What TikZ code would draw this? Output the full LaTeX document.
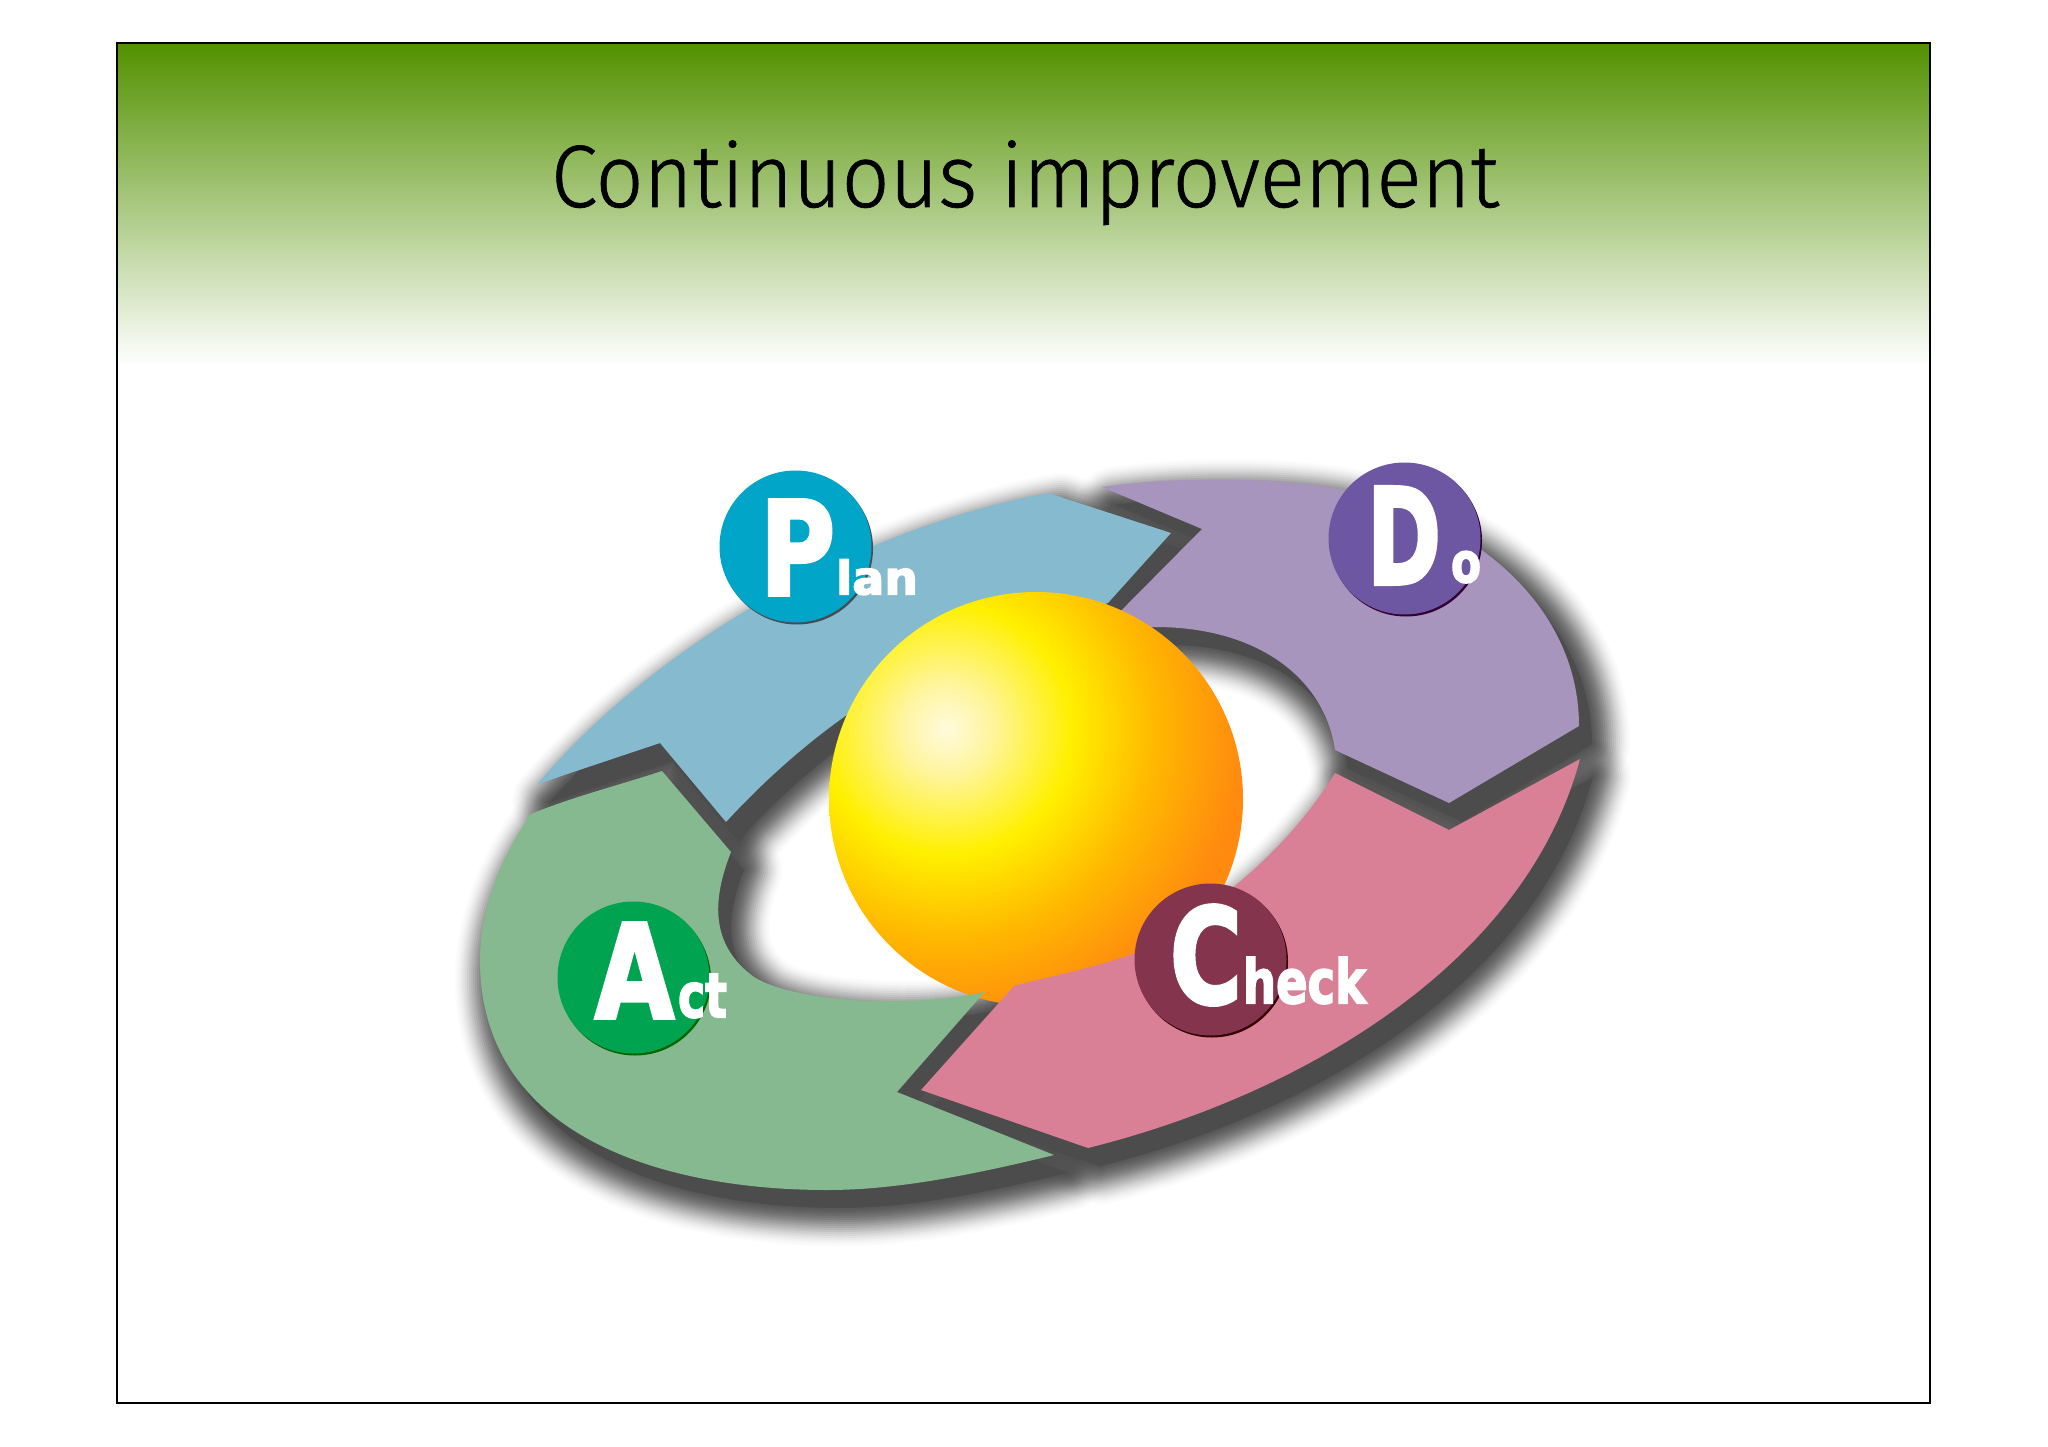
\documentclass[tikz,border=0pt]{standalone}
\usepackage{graphicx}
\usepackage{fontspec}
\newfontfamily\titlefont[FakeBold=0.8]{Fira Sans Light}
\newfontfamily\dejafont[BoldFeatures={FakeBold=3}]{DejaVu Sans}
\newcommand{\heavyfont}{\dejafont\bfseries}
\definecolor{shcol}{RGB}{76,76,76}
\definecolor{plancol}{RGB}{134,186,207}
\definecolor{docol}{RGB}{167,149,189}
\definecolor{checkcol}{RGB}{217,128,151}
\definecolor{actcol}{RGB}{135,185,145}
\definecolor{greentop}{RGB}{82,145,0}
\pgfdeclareradialshading{sphereball}{\pgfpoint{0bp}{0bp}}{%
 rgb(0bp)=(1,0.98,0.87);
 rgb(2.8bp)=(1,0.96,0.62);
 rgb(7.8bp)=(1,0.94,0);
 rgb(13.1bp)=(1,0.72,0);
 rgb(18.6bp)=(1,0.54,0.06);
 rgb(50bp)=(1,0.54,0.06)}
\def\planpath{(537.6,784) .. controls (650,650) and (850,530) .. (1048,493) -- (1171,533) -- (1108,603) -- (1040,628) .. controls (930,650) and (820,720) .. (726,822) -- (660,743) -- cycle}
\def\dopath{(1102,487) .. controls (1160,478) and (1270,475) .. (1343,490) .. controls (1480,520) and (1579,610) .. (1579,726) -- (1449,803) -- (1335,750) .. controls (1325,680) and (1260,627) .. (1155,627) -- (1100,632) -- (1202,529) -- cycle}
\def\checkpath{(1088,1148) .. controls (1300,1095) and (1525,965) .. (1580,759) -- (1449,830) -- (1335,773) .. controls (1300,830) and (1240,895) .. (1135,953) .. controls (1095,968) and (1055,975) .. (1014,986) -- (921,1090) -- cycle}
\def\actpath{(531,814) .. controls (575,796) and (620,785) .. (662,771) -- (731,852) .. controls (712,900) and (710,945) .. (754,977) .. controls (790,1000) and (900,1010) .. (984.5,992) -- (897,1092) -- (1054,1155) .. controls (960,1178) and (890,1190) .. (827,1190) .. controls (670,1190) and (480,1140) .. (480,960) .. controls (480,905) and (505,850) .. (531,814) -- cycle}
\tikzset{
  flatlabel/.style={inner sep=0pt,outer sep=0pt,anchor=south west,text=white},
  badge/.style={circle,inner sep=0pt,minimum size=152pt}
}
\begin{document}
\begin{tikzpicture}[x=1pt,y=-1pt]
\useasboundingbox (0,0) rectangle (2048,1447);
\fill[white] (0,0) rectangle (2048,1447);
% header band
\shade[top color=greentop,bottom color=white] (117,43) rectangle (1930,365);
% shadows
\begin{scope}[shift={(13,18)}]
 \foreach \p in {\planpath,\dopath,\checkpath,\actpath}{
  \foreach \w/\a in {76/.02,72/.02,68/.03,64/.04,60/.05,56/.06,52/.07,48/.085,44/.085,40/.1,36/.12,32/.14,28/.155,24/.155,20/.18,16/.2,12/.2,8/.245,4/.245}{
   \draw[shcol,line width=\w pt,opacity=\a,line join=round] \p;
  }
  \fill[shcol] \p;
 }
\end{scope}
% arrows and sphere
\fill[plancol] \planpath;
\fill[docol] \dopath;
\begin{scope}
 \clip (1036,799) circle (207);
 \shade[shading=sphereball] (946,729) circle (400);
\end{scope}
\fill[actcol] \actpath;
\fill[checkcol] \checkpath;
% badges
\fill[black!60!cyan!60!black] (797,548.5) circle (76);
\node[badge,fill={rgb,255:red,0;green,165;blue,200}] (planbadge) at (795.5,546.5) {};
\fill[black!60!violet] (1406,540.5) circle (76);
\node[badge,fill={rgb,255:red,109;green,87;blue,163}] (dobadge) at (1404.5,538.5) {};
\fill[green!40!black] (635,979.5) circle (76);
\node[badge,fill={rgb,255:red,0;green,164;blue,80}] (actbadge) at (633.5,977.5) {};
\fill[black!50!red!40!black] (1212,961.5) circle (76);
\node[badge,fill={rgb,255:red,132;green,52;blue,77}] (checkbadge) at (1210.5,959.5) {};
% letters
\node[flatlabel] (pl) at (760,595) {\resizebox{75pt}{95pt}{\heavyfont P}};
\node[flatlabel] (lan) at (836,595) {\resizebox{82pt}{35pt}{\heavyfont lan}};
\node[flatlabel] (dl) at (1367,584) {\resizebox{74pt}{97pt}{\heavyfont D}};
\node[flatlabel] (ol) at (1451,583) {\resizebox{30pt}{31pt}{\heavyfont o}};
\node[flatlabel] (al) at (595,1018) {\resizebox{79pt}{95pt}{\heavyfont A}};
\node[flatlabel] (ct) at (678,1018) {\resizebox{49pt}{43pt}{\heavyfont ct}};
\node[flatlabel] (cl) at (1170,1005) {\resizebox{72pt}{98pt}{\heavyfont C}};
\node[flatlabel] (heck) at (1243,1004) {\resizebox{123pt}{46pt}{\heavyfont heck}};
% title
\node[inner sep=0pt,outer sep=0pt,anchor=base west] (title) at (551,207) {\resizebox{948pt}{\height}{\fontsize{88.5pt}{100pt}\selectfont\titlefont Continuous improvement}};
% frame
\draw[black,line width=1.1pt] (117,43) rectangle (1930,1403);
\end{tikzpicture}
\end{document}
